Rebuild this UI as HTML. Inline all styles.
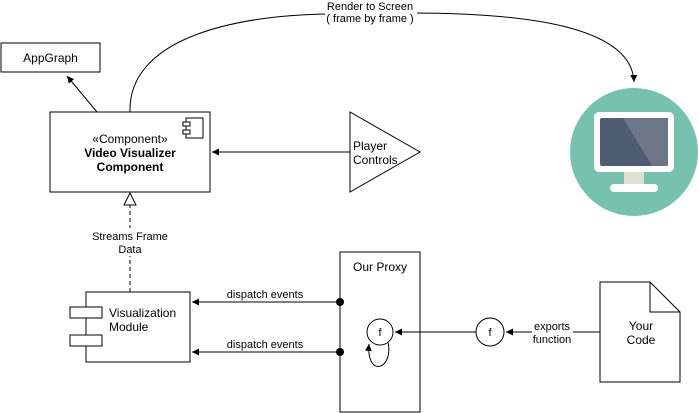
<!DOCTYPE html>
<html><head><style>body{margin:0;background:#fff}svg{display:block}text{font-family:"Liberation Sans",sans-serif;font-size:12px;fill:#000}</style></head><body>
<svg width="699" height="413" viewBox="0 0 699 413" xmlns="http://www.w3.org/2000/svg">
<defs>
<marker id="a" markerWidth="8" markerHeight="8" refX="7" refY="4" orient="auto" markerUnits="userSpaceOnUse"><path d="M0,0.5 L7,4 L0,7.5z" fill="#000"/></marker>
</defs>
<rect x="1" y="43" width="99" height="29" fill="#fff" stroke="#000"/>
<text x="50.5" y="62" text-anchor="middle">AppGraph</text>
<line x1="97" y1="112" x2="67" y2="76" stroke="#000" marker-end="url(#a)"/>
<path d="M130,112 C128,40 230,15 330,14 L410,13 C540,13 632,30 634,82" fill="none" stroke="#000" marker-end="url(#a)"/>
<rect x="325" y="0" width="92" height="26" fill="#fff"/>
<text x="370" y="10" text-anchor="middle" style="font-size:11px">Render to Screen</text>
<text x="370" y="22" text-anchor="middle" style="font-size:11px">( frame by frame )</text>
<rect x="50" y="112" width="160" height="80" fill="#fff" stroke="#000"/>
<rect x="186" y="118" width="17" height="20" fill="#fff" stroke="#000"/>
<rect x="183" y="122" width="7" height="4" fill="#fff" stroke="#000"/>
<rect x="183" y="130" width="7" height="4" fill="#fff" stroke="#000"/>
<text x="130" y="143" text-anchor="middle">«Component»</text>
<text x="130" y="157" text-anchor="middle" font-weight="bold">Video Visualizer</text>
<text x="130" y="171" text-anchor="middle" font-weight="bold">Component</text>
<path d="M350,112 L350,192 L420,152z" fill="#fff" stroke="#000"/>
<text x="353" y="150">Player</text>
<text x="353" y="164">Controls</text>
<line x1="350" y1="152" x2="212" y2="152" stroke="#000" marker-end="url(#a)"/>
<line x1="130" y1="292" x2="130" y2="205" stroke="#000" stroke-dasharray="4,3"/>
<path d="M130,193 L124,205 L136,205z" fill="#fff" stroke="#000"/>
<rect x="85" y="228" width="90" height="28" fill="#fff"/>
<text x="130" y="240" text-anchor="middle" style="font-size:11px">Streams Frame</text>
<text x="130" y="253" text-anchor="middle" style="font-size:11px">Data</text>
<rect x="86" y="292" width="104" height="70" fill="#fff" stroke="#000"/>
<rect x="70" y="307" width="32" height="11" fill="#fff" stroke="#000"/>
<rect x="70" y="335" width="32" height="11" fill="#fff" stroke="#000"/>
<text x="109" y="317">Visualization</text>
<text x="109" y="331">Module</text>
<rect x="340" y="252" width="80" height="160" fill="#fff" stroke="#000"/>
<text x="380" y="271" text-anchor="middle">Our Proxy</text>
<line x1="340" y1="302" x2="192" y2="302" stroke="#000" marker-end="url(#a)"/>
<line x1="340" y1="352" x2="192" y2="352" stroke="#000" marker-end="url(#a)"/>
<circle cx="340" cy="302" r="4" fill="#000"/>
<circle cx="340" cy="352" r="4" fill="#000"/>
<text x="265" y="298" text-anchor="middle" style="font-size:11px">dispatch events</text>
<text x="265" y="348" text-anchor="middle" style="font-size:11px">dispatch events</text>
<circle cx="380" cy="332" r="13" fill="#fff" stroke="#000"/>
<text x="380" y="336" text-anchor="middle" style="font-size:11px">f</text>
<path d="M388,342 C394,370 366,378 369,344" fill="none" stroke="#000" marker-end="url(#a)"/>
<line x1="476" y1="332" x2="395" y2="332" stroke="#000" marker-end="url(#a)"/>
<circle cx="490" cy="332" r="14" fill="#fff" stroke="#000"/>
<text x="490" y="336" text-anchor="middle" style="font-size:11px">f</text>
<line x1="600" y1="332" x2="506" y2="332" stroke="#000" marker-end="url(#a)"/>
<rect x="532" y="318" width="41" height="28" fill="#fff"/>
<text x="552" y="330" text-anchor="middle" style="font-size:11px">exports</text>
<text x="552" y="343" text-anchor="middle" style="font-size:11px">function</text>
<path d="M600,282 L650,282 L680,312 L680,382 L600,382z" fill="#fff" stroke="#000"/>
<path d="M650,282 L650,312 L680,312" fill="none" stroke="#000"/>
<text x="641" y="330" text-anchor="middle">Your</text>
<text x="641" y="344" text-anchor="middle">Code</text>
<circle cx="634" cy="152" r="64" fill="#76c2af"/>
<rect x="594" y="112" width="80" height="60" rx="5" fill="#fff"/>
<rect x="600" y="118" width="68" height="48" rx="2" fill="#4f5d73"/>
<path d="M623,118 L668,118 L668,166 L652,166z" fill="#6b7688"/>
<rect x="624" y="172" width="20" height="12" fill="#e0e0d1"/>
<rect x="610" y="184" width="48" height="8" rx="4" fill="#fff"/>
</svg>
</body></html>
